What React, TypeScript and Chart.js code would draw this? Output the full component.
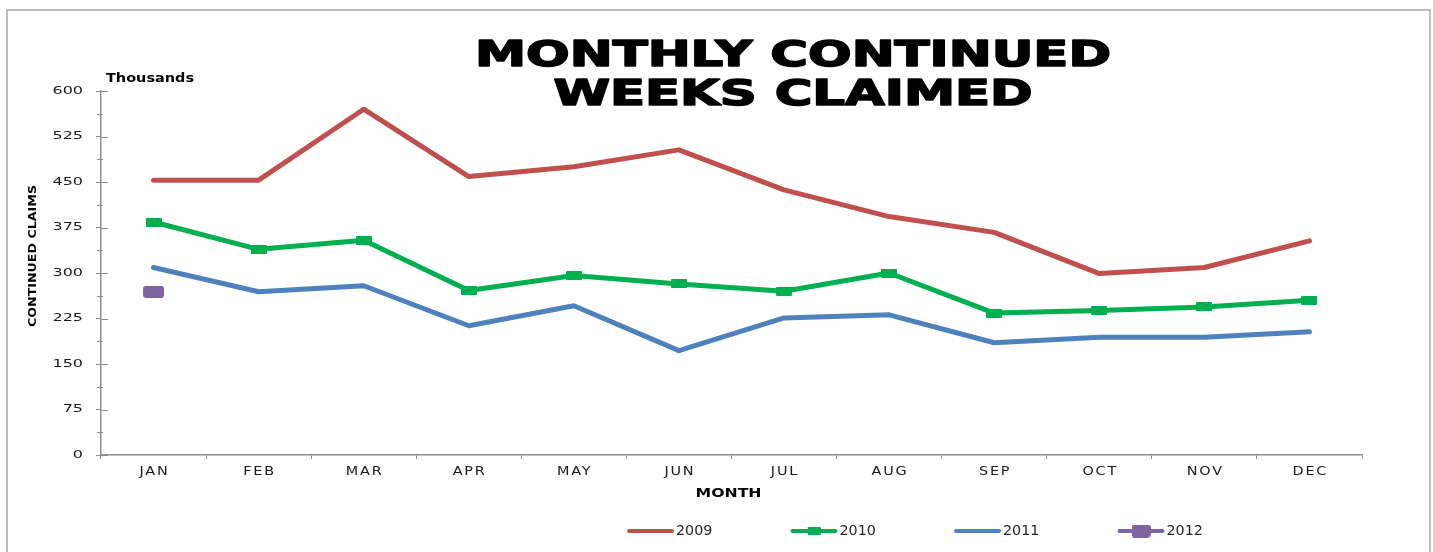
import React, { useEffect, useRef } from 'react';
import { Chart, registerables } from 'chart.js';

Chart.register(...registerables);

// ---- data ----
const months = ['JAN', 'FEB', 'MAR', 'APR', 'MAY', 'JUN', 'JUL', 'AUG', 'SEP', 'OCT', 'NOV', 'DEC'];
const claims2009 = [453, 453, 570, 459, 475, 503, 437, 393, 367, 299, 309, 353];
const claims2010 = [384, 339, 354, 271, 296, 282, 270, 300, 234, 238, 244, 255];
const claims2011 = [309, 269, 279, 213, 246, 172, 226, 231, 185, 194, 194, 203];
const claims2012 = [269, null, null, null, null, null, null, null, null, null, null, null];
const seriesLabels = ['2009', '2010', '2011', '2012'];
const yTickValues = [0, 75, 150, 225, 300, 375, 450, 525, 600];
const titleLines = ['MONTHLY CONTINUED', 'WEEKS CLAIMED'];
const yAxisTitle = 'CONTINUED CLAIMS';
const xAxisTitle = 'MONTH';
const unitLabel = 'Thousands';

const COLORS = ['#C0504D', '#00B050', '#4F81BD', '#8064A2'];

function makeMarker(w: number, h: number, r: number, color: string) {
  const c = document.createElement('canvas');
  c.width = w;
  c.height = h;
  const g = c.getContext('2d') as CanvasRenderingContext2D;
  g.fillStyle = color;
  g.beginPath();
  (g as any).roundRect(0, 0, w, h, r);
  g.fill();
  return c;
}

type TOpts = {
  font: string;
  color?: string;
  align?: 'left' | 'center' | 'right';
  sx?: number;
  spacing?: number;
  targetWidth?: number;
  baseline?: CanvasTextBaseline;
  rotate?: number;
  stroke?: number;
};

function drawText(ctx: CanvasRenderingContext2D, text: string, x: number, y: number, o: TOpts) {
  ctx.save();
  ctx.font = o.font;
  const sp = o.spacing || 0;
  (ctx as any).letterSpacing = sp + 'px';
  const m = ctx.measureText(text).width - sp;
  let sx = o.sx ?? 1;
  if (o.targetWidth) sx = o.targetWidth / m;
  const w = m * sx;
  ctx.translate(x, y);
  if (o.rotate) ctx.rotate(o.rotate);
  const align = o.align || 'left';
  const x0 = align === 'left' ? 0 : align === 'center' ? -w / 2 : -w;
  ctx.translate(x0, 0);
  ctx.scale(sx, 1);
  ctx.textAlign = 'left';
  ctx.textBaseline = o.baseline || 'alphabetic';
  ctx.fillStyle = o.color || '#000';
  ctx.fillText(text, 0, 0);
  if (o.stroke) {
    ctx.strokeStyle = o.color || '#000';
    ctx.lineWidth = o.stroke;
    ctx.lineJoin = 'round';
    ctx.strokeText(text, 0, 0);
  }
  ctx.restore();
  return sx;
}

export default function App() {
  const ref = useRef<HTMLCanvasElement | null>(null);

  useEffect(() => {
    const canvas = ref.current;
    if (!canvas) return;

    const marker2010 = makeMarker(16, 9, 1, COLORS[1]);
    const marker2012 = makeMarker(21, 12, 3, COLORS[3]);
    const legendMarkers: (HTMLCanvasElement | null)[] = [
      null,
      makeMarker(13, 8, 1, COLORS[1]),
      null,
      makeMarker(19, 13, 3, COLORS[3]),
    ];

    const decor = {
      id: 'decor',
      beforeDraw(chart: any) {
        const ctx = chart.ctx as CanvasRenderingContext2D;
        ctx.save();
        ctx.fillStyle = '#ffffff';
        ctx.fillRect(0, 0, chart.width, chart.height);
        ctx.restore();
      },
      afterDraw(chart: any) {
        const ctx = chart.ctx as CanvasRenderingContext2D;
        const ys = chart.scales.y;
        const xs = chart.scales.x;
        const area = chart.chartArea;

        // outer border
        ctx.save();
        ctx.strokeStyle = '#a6a6a6';
        ctx.lineWidth = 1.5;
        ctx.strokeRect(7, 10, 1423, 560);
        ctx.restore();

        // extra tick marks on y axis (inner part of majors + minors)
        ctx.save();
        ctx.strokeStyle = '#8c8c8c';
        ctx.lineWidth = 1;
        for (let i = 0; i < yTickValues.length; i++) {
          const py = Math.round(ys.getPixelForValue(yTickValues[i])) + 0.5;
          ctx.beginPath();
          ctx.moveTo(area.left, py);
          ctx.lineTo(area.left + 7, py);
          ctx.stroke();
          if (i < yTickValues.length - 1) {
            const mid = (yTickValues[i] + yTickValues[i + 1]) / 2;
            const pm = Math.round(ys.getPixelForValue(mid)) + 0.5;
            ctx.beginPath();
            ctx.moveTo(area.left - 4, pm);
            ctx.lineTo(area.left + 2, pm);
            ctx.stroke();
          }
        }
        ctx.restore();

        // y tick labels
        for (const v of yTickValues) {
          drawText(ctx, String(v), 83, ys.getPixelForValue(v), {
            font: '11px "DejaVu Sans"',
            color: '#1a1a1a',
            align: 'right',
            sx: 1.45,
            baseline: 'middle',
          });
        }
        // x tick labels
        months.forEach((m, i) => {
          drawText(ctx, m, xs.getPixelForValue(i), 475, {
            font: '12px "DejaVu Sans"',
            color: '#1a1a1a',
            align: 'center',
            sx: 1.2,
            spacing: 1.5,
          });
        });

        // axis titles
        drawText(ctx, xAxisTitle, (area.left + area.right) / 2 - 3, 497, {
          font: 'bold 12px "DejaVu Sans"',
          align: 'center',
          targetWidth: 66,
        });
        drawText(ctx, yAxisTitle, 33, 256, {
          font: 'bold 11px "DejaVu Sans"',
          align: 'center',
          baseline: 'middle',
          rotate: -Math.PI / 2,
          targetWidth: 142,
        });
        drawText(ctx, unitLabel, 106, 82, {
          font: 'bold 12px "DejaVu Sans"',
          align: 'left',
          targetWidth: 88,
        });

        // title
        const sx = drawText(ctx, titleLines[0], 793, 66, {
          font: 'bold 36px "DejaVu Sans"',
          align: 'center',
          targetWidth: 636,
          stroke: 1.6,
        });
        drawText(ctx, titleLines[1], 793, 105, {
          font: 'bold 36px "DejaVu Sans"',
          align: 'center',
          sx,
          stroke: 1.6,
        });

        // legend
        const ly = 531;
        chart.data.datasets.forEach((ds: any, i: number) => {
          const x0 = 627 + i * 163.5;
          ctx.save();
          ctx.strokeStyle = ds.borderColor;
          ctx.lineWidth = 4;
          ctx.lineCap = 'round';
          ctx.beginPath();
          ctx.moveTo(x0 + 2, ly);
          ctx.lineTo(x0 + 45, ly);
          ctx.stroke();
          const mk = legendMarkers[i];
          if (mk) ctx.drawImage(mk, x0 + 23.5 - mk.width / 2, ly - mk.height / 2);
          ctx.restore();
          drawText(ctx, ds.label, x0 + 49, ly, {
            font: '14px "DejaVu Sans"',
            color: '#262626',
            align: 'left',
            baseline: 'middle',
            sx: 1.02,
          });
        });
      },
    };

    const chart = new Chart(canvas, {
      type: 'line',
      data: {
        labels: months,
        datasets: [
          {
            label: seriesLabels[0],
            data: claims2009,
            borderColor: COLORS[0],
            backgroundColor: COLORS[0],
            borderWidth: 5,
            pointRadius: 0,
            borderCapStyle: 'round',
            borderJoinStyle: 'round',
            tension: 0,
          },
          {
            label: seriesLabels[1],
            data: claims2010,
            borderColor: COLORS[1],
            backgroundColor: COLORS[1],
            borderWidth: 5,
            pointRadius: 5,
            pointStyle: marker2010 as any,
            borderCapStyle: 'round',
            borderJoinStyle: 'round',
            tension: 0,
          },
          {
            label: seriesLabels[2],
            data: claims2011,
            borderColor: COLORS[2],
            backgroundColor: COLORS[2],
            borderWidth: 5,
            pointRadius: 0,
            borderCapStyle: 'round',
            borderJoinStyle: 'round',
            tension: 0,
          },
          {
            label: seriesLabels[3],
            data: claims2012 as any,
            borderColor: COLORS[3],
            backgroundColor: COLORS[3],
            borderWidth: 5,
            pointRadius: 6,
            pointStyle: marker2012 as any,
            tension: 0,
          },
        ],
      },
      options: {
        responsive: false,
        animation: false,
        devicePixelRatio: 1,
        events: [],
        layout: { padding: { left: 91, top: 91, right: 71, bottom: 87 } },
        plugins: {
          legend: { display: false },
          title: { display: false },
          tooltip: { enabled: false },
        },
        scales: {
          x: {
            type: 'category',
            offset: true,
            grid: {
              offset: true,
              drawOnChartArea: false,
              drawTicks: true,
              tickLength: 4,
              color: '#8c8c8c',
            },
            border: { display: true, color: '#8c8c8c', width: 1.5 },
            ticks: { display: false },
            afterFit: (s: any) => {
              s.height = 10;
            },
          },
          y: {
            min: 0,
            max: 600,
            ticks: { display: false, stepSize: 75 },
            grid: {
              drawOnChartArea: false,
              drawTicks: true,
              tickLength: 5,
              color: '#8c8c8c',
            },
            border: { display: true, color: '#8c8c8c', width: 1.5 },
            afterFit: (s: any) => {
              s.width = 10;
            },
          },
        },
      },
      plugins: [decor],
    });

    return () => chart.destroy();
  }, []);

  return (
    <div style={{ position: 'fixed', left: 0, top: 0, width: 1433, height: 552, background: '#fff' }}>
      <canvas ref={ref} width={1433} height={552} style={{ display: 'block', width: 1433, height: 552 }} />
    </div>
  );
}
